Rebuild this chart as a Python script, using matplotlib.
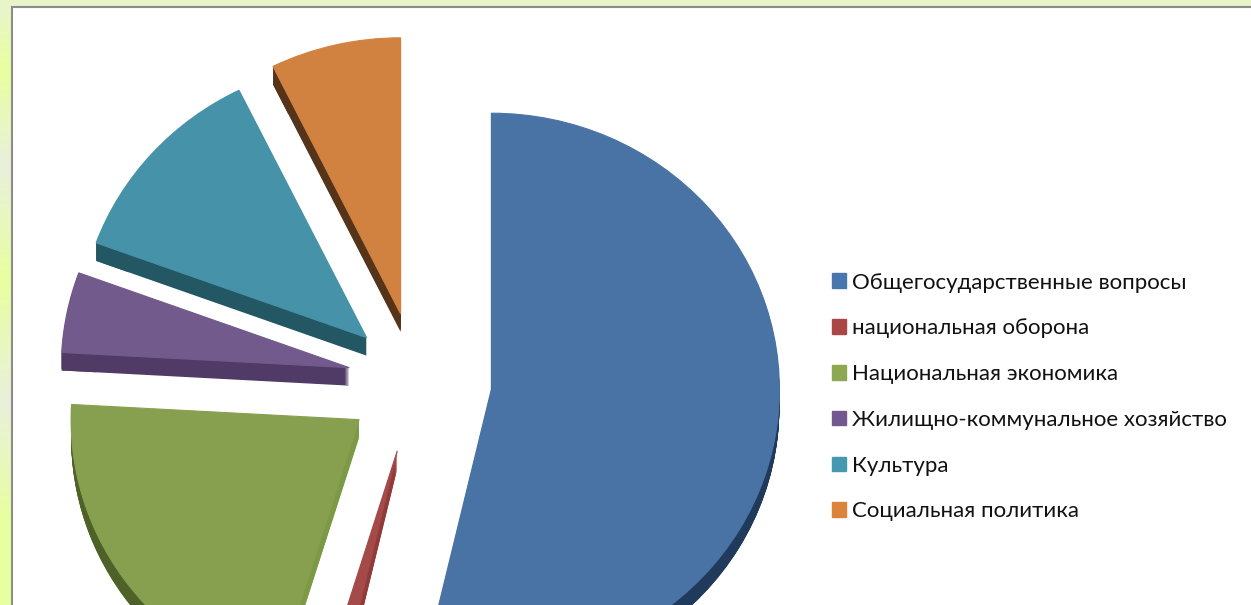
import matplotlib
matplotlib.use("Agg")
import matplotlib.pyplot as plt
import matplotlib.patches as mpatches
import numpy as np

plt.rcParams['font.family'] = ['Lato', 'DejaVu Sans']

W, H = 1251, 605

labels = ["Общегосударственные вопросы", "национальная оборона", "Национальная экономика",
          "Жилищно-коммунальное хозяйство", "Культура", "Социальная политика"]
values = [53.6, 1.1, 21.1, 4.7, 12.1, 7.3]
explode = [0.26, 0.262, 0.245, 0.24, 0.235, 0.25]

top_colors = ["#4A73A5", "#A44A48", "#87A04F", "#725A8C", "#4692A8", "#D18240"]
wall_colors = ["#1F3A5A", "#913A3A", "#7C9A45", "#4F3B66", "#225763", "#55341A"]
rim_colors = ["#1F3A5A", "#913A3A", "#4E6129", "#4F3B66", "#225763", "#55341A"]
legend_colors = ["#4A76AE", "#AA4644", "#8CA850", "#72588F", "#4299B0", "#DD843C"]

fig = plt.figure(figsize=(W / 100, H / 100), dpi=100, facecolor="#E9F4C8")

# left strip gradient behind the white panel
bg = fig.add_axes([0, 0, 1, 1])
grad_y = [0, 70, 165, 280, 400, 520, 605]
grad_g = [0xF4, 0xFF, 0xF0, 0xFF, 0xF0, 0xFF, 0xFF]
grad_b = [0xD0, 0x9F, 0xDC, 0x9F, 0xDC, 0x9F, 0x9F]
rows = np.arange(H)
strip = np.zeros((H, 1, 3))
strip[:, 0, 0] = 0xE8 / 255
strip[:, 0, 1] = np.interp(rows, grad_y, grad_g) / 255
strip[:, 0, 2] = np.interp(rows, grad_y, grad_b) / 255
bg.imshow(strip, aspect="auto", extent=(0, W, H, 0))
bg.axhspan(0, 6, color="#E9F4C8", lw=0)
bg.add_patch(mpatches.Rectangle((12, 7), W, H, facecolor="white", edgecolor="#8C8C8C", lw=1.5))
bg.set_xlim(0, W)
bg.set_ylim(H, 0)
bg.axis("off")

# pie, unit circle stretched to the picture's slightly flattened ellipse
cx, cy, rx, ry = 417, 381, 288, 276
ax = fig.add_axes([0, 0, 1, 1], facecolor="none")
wedges, _ = ax.pie(values, explode=explode, startangle=90, counterclock=False,
                   colors=top_colors, frame=True, wedgeprops={"zorder": 5, "lw": 0.8})
for w in wedges:
    w.set_edgecolor(w.get_facecolor())
ax.set_aspect("auto")
ax.set_xlim(-cx / rx, (W - cx) / rx)
ax.set_ylim((cy - H) / ry, cy / ry)
ax.axis("off")

# side walls: sweep each slice downwards
depth = 18 / ry
for w, wall, rim in zip(wedges, wall_colors, rim_colors):
    for d in np.linspace(depth / 18, depth, 18):
        c = (w.center[0], w.center[1] - d)
        ax.add_patch(mpatches.Wedge(c, w.r, w.theta1, w.theta2, color=wall, lw=0, zorder=2))
        ax.add_patch(mpatches.Wedge(c, w.r, w.theta1, w.theta2, width=0.12, color=rim, lw=0, zorder=3))

handles = [mpatches.Patch(color=c) for c in legend_colors]
ax.legend(handles, labels, loc="center left", bbox_to_anchor=(812 / W, 1 - 397 / H),
          bbox_transform=fig.transFigure, frameon=False, fontsize=16.0, handlelength=0.63,
          handleheight=0.63, handletextpad=0.27, labelspacing=1.16, labelcolor="#111111")

fig.savefig("out.png", dpi=100, facecolor=fig.get_facecolor())
